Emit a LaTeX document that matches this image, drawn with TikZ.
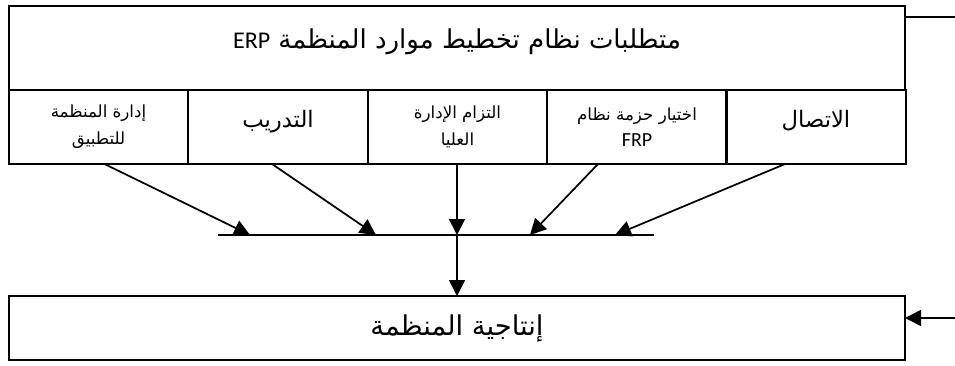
\documentclass[tikz,border=0pt]{standalone}
\usepackage{fontspec}
\newfontfamily\arabicfont[Script=Arabic]{DejaVu Sans}
\newfontfamily\latinfont{Carlito}
\TeXXeTstate=1
\usetikzlibrary{arrows.meta}
\usetikzlibrary{calc}

\tikzset{
  wide/.style={draw, outer sep=0pt, minimum width=672pt, inner sep=0pt},
  cell/.style={draw, outer sep=0pt, inner sep=0pt, minimum width=134.5pt,
    minimum height=55.5pt, align=center},
  small/.style={font=\arabicfont\fontsize{12.5}{20}\selectfont},
  big/.style={font=\arabicfont\fontsize{17}{20}\selectfont, text height=6pt, text depth=6pt},
  arr/.style={-{Triangle[length=12pt,width=12pt]}},
}

\begin{document}
\begin{tikzpicture}[x=0.75pt,y=-0.75pt,line width=1.3pt]
        \useasboundingbox (0,0) rectangle (955,365);

        % header and the five requirements
        \node[wide,minimum height=63pt,font=\arabicfont\fontsize{19.5}{22}\selectfont,
              text height=8pt,text depth=8pt] (req) at (457,48)
          {\beginR متطلبات نظام تخطيط موارد المنظمة \beginL{\latinfont\fontsize{18}{22}\selectfont ERP}\endL\endR};
        \node[cell,small] (c1) at (98.5,127) {\beginR إدارة المنظمة\endR\\\beginR للتطبيق\endR};
        \node[cell,big] (c2) at (278,127) {\beginR التدريب\endR};
        \node[cell,small] (c3) at (457.5,127) {\beginR التزام الإدارة\endR\\\beginR العليا\endR};
        \node[cell,small] (c4) at (637,127)
          {\beginR اختيار حزمة نظام\endR\\{\latinfont\fontsize{15}{20}\selectfont FRP}};
        \node[cell,big] (c5) at (816,127) {\beginR الاتصال\endR};

        % the common line
        \coordinate (barL) at (218,235);
        \coordinate (barR) at (654,235);
        \draw (barL) -- (barR);
        \coordinate (j1) at (250,235);
        \coordinate (j2) at (376,235);
        \coordinate (j3) at (457,235);
        \coordinate (j4) at (530,235);
        \coordinate (j5) at (615,235);

        \draw[arr] ($(c1.south)+(6,0)$) -- (j1);
        \draw[arr] ($(c2.south)+(-6,0)$) -- (j2);
        \draw[arr] (c3.south -| j3) -- (j3);
        \draw[arr] ($(c4.south)+(-39,0)$) -- (j4);
        \draw[arr] ($(c5.south)+(-31,0)$) -- (j5);

        % result
        \node[wide,minimum height=48pt,font=\arabicfont\fontsize{20.5}{24}\selectfont] (prod) at (457,328)
          {\beginR إنتاجية المنظمة\endR};
        \draw[arr] (j3) -- (prod.north -| j3);

        \coordinate (inR) at (955,17);
        \coordinate (outR) at (955,318);
        \draw (inR) -- (inR -| req.east);
        \draw[arr] (outR) -- (outR -| prod.east);
      \end{tikzpicture}
\end{document}
